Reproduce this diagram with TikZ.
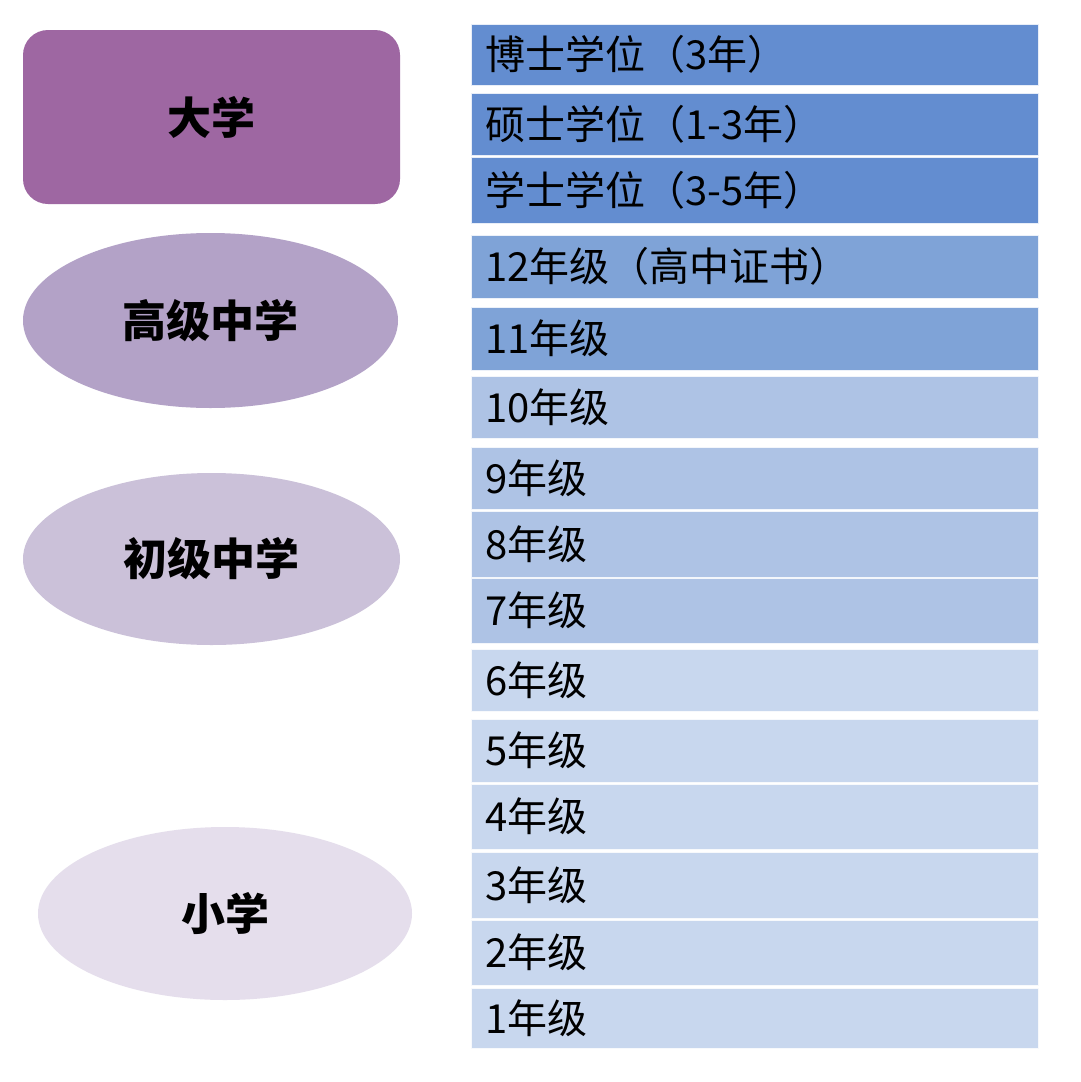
\documentclass[tikz,border=0pt]{standalone}
\usepackage{fontspec}
\newfontfamily\cjk{Noto Sans CJK SC}
\usetikzlibrary{shapes.geometric}
\definecolor{cUni}{RGB}{158,103,162}
\definecolor{cSen}{RGB}{179,162,199}
\definecolor{cJun}{RGB}{203,193,217}
\definecolor{cPri}{RGB}{229,222,236}
\definecolor{bA}{RGB}{99,141,208}
\definecolor{bB}{RGB}{127,163,215}
\definecolor{bC}{RGB}{174,195,229}
\definecolor{bD}{RGB}{200,215,238}
\tikzset{
  stage/.style={fill=#1, draw=none, font=\cjk\bfseries\fontsize{44}{48}\selectfont, text=black},
  bar/.style={fill=#1, draw=white!85!#1, line width=0.8pt, rectangle, inner xsep=14pt, inner ysep=0pt,
    text width=539pt, align=left, font=\cjk\fontsize{40}{44}\selectfont, text=black}
}
\begin{document}
\begin{tikzpicture}[x=1pt,y=-1pt]
\useasboundingbox[fill=white] (0,0) rectangle (1080,1082);
% left stages
\node[stage=cUni, rectangle, rounded corners=25pt, minimum width=377pt, minimum height=174pt] (uni) at (211.5,117) {大学};
\node[stage=cSen, ellipse, minimum width=375pt, minimum height=175pt, inner sep=0pt] (sen) at (210.5,320.5) {高级中学};
\node[stage=cJun, ellipse, minimum width=377pt, minimum height=172pt, inner sep=0pt] (jun) at (211.5,559) {初级中学};
\node[stage=cPri, ellipse, minimum width=374pt, minimum height=173pt, inner sep=0pt] (pri) at (225,913.5) {小学};
% right bars
\foreach \t/\b/\c/\n/\txt in {
  24/85/bA/phd/博士学位（3年）,
  93/155/bA/msc/硕士学位（1-3年）,
  157/223/bA/bsc/学士学位（3-5年）,
  235/298/bB/g12/12年级（高中证书）,
  307/370/bB/g11/11年级,
  376/438/bC/g10/10年级,
  447/509/bC/g9/9年级,
  511/577/bC/g8/8年级,
  578/643/bC/g7/7年级,
  649/711/bD/g6/6年级,
  719/782/bD/g5/5年级,
  784/849/bD/g4/4年级,
  852/918/bD/g3/3年级,
  920/985/bD/g2/2年级,
  988/1048/bD/g1/1年级}
{
  \pgfmathsetmacro{\h}{\b-\t}
  \pgfmathsetmacro{\m}{(\t+\b)/2}
  \node[bar=\c, minimum height=\h pt] (\n) at (754.5,\m) {\txt};
}
\end{tikzpicture}
\end{document}
